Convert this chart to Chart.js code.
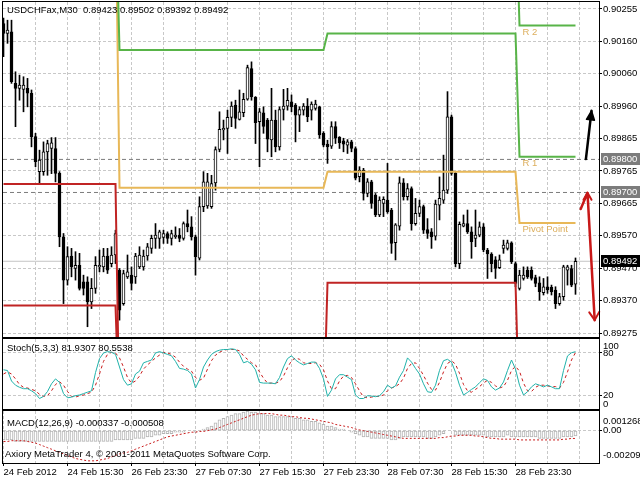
<!DOCTYPE html>
<html>
<head>
<meta charset="utf-8">
<script src="https://cdn.jsdelivr.net/npm/chart.js@4.4.0/dist/chart.umd.min.js"></script>
<style>
  html, body { margin: 0; padding: 0; background: #fff; }
  #wrap { position: relative; width: 640px; height: 480px; overflow: hidden; background: #fff; }
  #wrap canvas { position: absolute; left: 0; }
</style>
</head>
<body>
<div id="wrap">
  <canvas id="main" width="640" height="338" style="top:0px"></canvas>
  <canvas id="stoch" width="640" height="72" style="top:338px"></canvas>
  <canvas id="macd" width="640" height="70" style="top:410px"></canvas>
</div>
<script>
// ---- data (USDCHF M30, bar 0 = 24 Feb 2012 07:30) ----
const symbol = 'USDCHFax';
const period = 'M30';

const barOpen = [
  0.90211,0.90181,0.90186,0.90030,0.90015,0.90012,0.90015,0.90000,0.89869,0.89763,
  0.89763,0.89823,0.89833,0.89833,0.89758,0.89566,0.89435,0.89508,0.89470,0.89480,
  0.89430,0.89430,0.89369,0.89410,0.89475,0.89475,0.89508,0.89485,0.89511,0.89465,
  0.89364,0.89445,0.89450,0.89445,0.89475,0.89475,0.89508,0.89531,0.89561,0.89561,
  0.89564,0.89576,0.89561,0.89566,0.89571,0.89561,0.89606,0.89596,0.89566,0.89501,
  0.89657,0.89659,0.89657,0.89729,0.89830,0.89889,0.89894,0.89927,0.89964,0.89921,
  0.89941,0.89982,0.90075,0.89988,0.89914,0.89941,0.89919,0.89859,0.89919,0.89838,
  0.89951,0.89961,0.89974,0.89964,0.89934,0.89949,0.89961,0.89949,0.89954,0.89959,
  0.89879,0.89846,0.89840,0.89899,0.89867,0.89856,0.89843,0.89853,0.89833,0.89748,
  0.89768,0.89697,0.89732,0.89692,0.89632,0.89667,0.89677,0.89647,0.89548,0.89598,
  0.89729,0.89687,0.89712,0.89606,0.89637,0.89657,0.89588,0.89581,0.89568,0.89662,
  0.89677,0.89707,0.89929,0.89758,0.89485,0.89598,0.89606,0.89581,0.89561,0.89571,
  0.89596,0.89526,0.89514,0.89496,0.89473,0.89531,0.89531,0.89548,0.89485,0.89410,
  0.89440,0.89465,0.89465,0.89443,0.89427,0.89397,0.89415,0.89413,0.89405,0.89364,
  0.89385,0.89465,0.89470,0.89423
];
const barHigh = [
  0.90227,0.90221,0.90221,0.90065,0.90055,0.90050,0.90045,0.90010,0.89879,0.89828,
  0.89853,0.89858,0.89866,0.89866,0.89763,0.89576,0.89536,0.89531,0.89521,0.89516,
  0.89450,0.89445,0.89440,0.89506,0.89526,0.89531,0.89531,0.89536,0.89586,0.89470,
  0.89465,0.89511,0.89475,0.89516,0.89536,0.89526,0.89546,0.89571,0.89606,0.89586,
  0.89586,0.89581,0.89586,0.89596,0.89591,0.89611,0.89647,0.89627,0.89571,0.89687,
  0.89763,0.89758,0.89752,0.89838,0.89944,0.89919,0.89949,0.89974,0.89979,0.90010,
  0.90000,0.90085,0.90095,0.89990,0.89954,0.89959,0.89924,0.90015,0.89949,0.89959,
  0.90012,0.90015,0.89995,0.89969,0.89959,0.89969,0.89984,0.89974,0.89979,0.89961,
  0.89884,0.89858,0.89914,0.89914,0.89869,0.89864,0.89860,0.89858,0.89838,0.89778,
  0.89773,0.89742,0.89737,0.89697,0.89687,0.89687,0.89788,0.89652,0.89606,0.89747,
  0.89742,0.89727,0.89717,0.89682,0.89677,0.89662,0.89621,0.89591,0.89677,0.89747,
  0.89813,0.90005,0.89934,0.89763,0.89611,0.89632,0.89647,0.89596,0.89647,0.89611,
  0.89606,0.89531,0.89518,0.89506,0.89511,0.89556,0.89556,0.89551,0.89490,0.89465,
  0.89475,0.89475,0.89475,0.89450,0.89445,0.89440,0.89445,0.89420,0.89415,0.89395,
  0.89480,0.89480,0.89480,0.89502
];
const barLow = [
  0.90111,0.90151,0.90030,0.89899,0.89979,0.89944,0.89959,0.89838,0.89778,0.89727,
  0.89752,0.89752,0.89757,0.89732,0.89536,0.89364,0.89420,0.89445,0.89435,0.89405,
  0.89390,0.89294,0.89349,0.89395,0.89460,0.89460,0.89455,0.89475,0.89485,0.89314,
  0.89359,0.89440,0.89405,0.89425,0.89470,0.89465,0.89495,0.89516,0.89531,0.89531,
  0.89546,0.89546,0.89541,0.89561,0.89551,0.89556,0.89581,0.89556,0.89450,0.89496,
  0.89642,0.89652,0.89652,0.89707,0.89823,0.89859,0.89818,0.89899,0.89894,0.89919,
  0.89929,0.89979,0.89979,0.89848,0.89778,0.89879,0.89823,0.89808,0.89823,0.89828,
  0.89919,0.89949,0.89944,0.89853,0.89884,0.89934,0.89914,0.89919,0.89949,0.89864,
  0.89838,0.89788,0.89833,0.89848,0.89833,0.89823,0.89818,0.89823,0.89738,0.89732,
  0.89677,0.89687,0.89652,0.89627,0.89627,0.89627,0.89637,0.89516,0.89496,0.89586,
  0.89677,0.89677,0.89586,0.89601,0.89627,0.89576,0.89561,0.89531,0.89556,0.89617,
  0.89667,0.89697,0.89752,0.89475,0.89470,0.89596,0.89576,0.89501,0.89536,0.89566,
  0.89521,0.89440,0.89460,0.89440,0.89470,0.89516,0.89526,0.89485,0.89415,0.89405,
  0.89435,0.89440,0.89435,0.89415,0.89374,0.89390,0.89395,0.89390,0.89349,0.89359,
  0.89374,0.89420,0.89415,0.89392
];
const barClose = [
  0.90181,0.90191,0.90035,0.90015,0.90025,0.90025,0.90000,0.89869,0.89793,0.89798,
  0.89823,0.89848,0.89850,0.89758,0.89566,0.89435,0.89506,0.89475,0.89480,0.89410,
  0.89410,0.89369,0.89410,0.89480,0.89480,0.89508,0.89465,0.89511,0.89576,0.89344,
  0.89455,0.89460,0.89425,0.89508,0.89511,0.89508,0.89536,0.89561,0.89571,0.89581,
  0.89576,0.89561,0.89576,0.89571,0.89561,0.89606,0.89596,0.89566,0.89506,0.89657,
  0.89732,0.89732,0.89727,0.89830,0.89891,0.89894,0.89927,0.89961,0.89924,0.89944,
  0.89982,0.90078,0.89990,0.89911,0.89944,0.89900,0.89861,0.89919,0.89838,0.89951,
  0.89961,0.89979,0.89959,0.89934,0.89951,0.89961,0.89929,0.89967,0.89967,0.89874,
  0.89843,0.89838,0.89899,0.89864,0.89850,0.89846,0.89853,0.89833,0.89743,0.89768,
  0.89697,0.89732,0.89667,0.89632,0.89677,0.89679,0.89642,0.89546,0.89602,0.89729,
  0.89687,0.89712,0.89606,0.89637,0.89657,0.89586,0.89576,0.89566,0.89665,0.89682,
  0.89707,0.89929,0.89758,0.89485,0.89604,0.89606,0.89581,0.89551,0.89571,0.89596,
  0.89526,0.89514,0.89485,0.89470,0.89496,0.89541,0.89548,0.89490,0.89425,0.89450,
  0.89450,0.89445,0.89440,0.89425,0.89400,0.89415,0.89405,0.89400,0.89364,0.89385,
  0.89475,0.89475,0.89420,0.89492
];

// daily pivot levels (first bar of each day); 0.9060 / 0.8900 = off the visible range
const dayStart    = [0, 29, 81, 129];
const r2Levels    = [0.90600, 0.90600, 0.90600, 0.90205];
const r1Levels    = [0.90600, 0.90131, 0.90181, 0.89808];
const pivotLevels = [0.90600, 0.89714, 0.89763, 0.89608];
const s1Levels    = [0.89726, 0.89000, 0.89427, 0.89000];
const s2Levels    = [0.89358, 0.89000, 0.89000, 0.89000];
const pivotLabels = ['R 2', 'R 1', 'Pivot Point'];
const pivotLabelLevels = [0.90205, 0.89808, 0.89608];
const pivotLabelBar = 130;

// horizontal lines and price marks
const userLines = [0.89800, 0.89700];
const bidPrice = 0.89492;

// hand-drawn arrows: [bar, price]
const blackArrow = [[145.6, 0.89801], [147.0, 0.89947]];
const redArrow = [[144.3, 0.89650], [146.0, 0.89699], [147.8, 0.89314]];

// price axis
const priceTicks = [0.89275,0.89373,0.89471,0.89569,0.89667,0.89765,0.89863,0.89961,0.90059,0.90157,0.90255];
const priceTickLabels = ['0.89275','0.89370','0.89470','0.89570','0.89665','0.89765','0.89865','0.89960','0.90060','0.90160','0.90255'];

// time axis
const gridBars = [8,16,24,32,40,48,56,64,72,80,88,96,104,112,120,128,136,144];
const timeLabelBars = [0,16,32,48,64,80,96,112,128];
const timeLabels = ['24 Feb 2012','24 Feb 15:30','26 Feb 23:30','27 Feb 07:30','27 Feb 15:30','27 Feb 23:30','28 Feb 07:30','28 Feb 15:30','28 Feb 23:30'];

// Stochastic(5,3,3)
const stochK = [
  56,55,40,34,31,29,29,26,22,15,
  18,25,36,43,38,22,16,17,19,20,
  22,24,26,52,72,80,82,81,78,60,
  42,34,36,50,54,66,68,70,80,82,
  80,78,76,68,58,57,55,50,30,42,
  60,70,78,82,84,85,85,86,85,78,
  66,68,64,56,38,37,37,37,36,45,
  60,72,76,70,66,63,65,67,67,58,
  43,18,27,43,49,49,45.5,42,20,15,
  15,19,18.5,17.6,19,24.6,34,30,33,45.5,
  55,73,67,58,50,36,24.6,23.7,34,55,
  69,71,67,52.5,34,20,23.7,28,31.6,37.6,
  43,40.8,31.6,27,30,38.6,55,70,57,34,
  20,24.6,31.6,36,34,31.6,34,31.6,29,29,
  55,75.8,80.4,81.9307
];
const stochD = [
  50,53,50,43,35,31,30,28,26,21,
  18,19,26,35,39,34,25,18,17,19,
  20,22,24,34,50,68,78,81,80,73,
  60,45,37,40,47,57,63,68,73,77,
  81,80,78,74,67,61,57,54,45,41,
  44,57,69,77,81,84,85,85,85,83,
  76,71,66,63,53,44,37,37,37,39,
  47,59,69,73,71,66,65,65,66,64,
  56,40,29,29,40,47,48,45,36,26,
  17,16,17,18,18,20,26,30,32,36,
  44,58,65,66,58,48,37,28,27,38,
  53,65,69,64,51,35,26,24,28,32,
  37,41,38,33,30,32,41,55,61,54,
  37,26,25,31,34,34,33,32,32,30,
  38,53,70,80.5538
];
const stochTicks = [20, 80];

// MACD(12,26,9)
const macdMain = [
  -0.0006,-0.0006,-0.0006,-0.0007,-0.0007,-0.0007,-0.0007,-0.0007,-0.0007,-0.0007,
  -0.0007,-0.0007,-0.0007,-0.0007,-0.0007,-0.0007,-0.0007,-0.0007,-0.0007,-0.0007,
  -0.0007,-0.0007,-0.0007,-0.0007,-0.0007,-0.0007,-0.0007,-0.0007,-0.0006,-0.0006,
  -0.0006,-0.0006,-0.0006,-0.0005,-0.0005,-0.0005,-0.0004,-0.0004,-0.0003,-0.0003,
  -0.0002,-0.0002,-0.0002,-0.0001,-0.0001,-0.0001,0.0000,0.0000,-0.0001,0.0000,
  0.0001,0.0002,0.0003,0.0005,0.0007,0.0008,0.0009,0.0010,0.0011,0.0011,
  0.0012,0.001268,0.0012,0.0012,0.0011,0.0011,0.0010,0.0010,0.0009,0.0009,
  0.0009,0.0009,0.0009,0.0008,0.0008,0.0007,0.0007,0.0006,0.0006,0.0005,
  0.0004,0.0003,0.0003,0.0002,0.0001,0.0001,0.0000,-0.0001,-0.0002,-0.0003,
  -0.0004,-0.0004,-0.0005,-0.0005,-0.0005,-0.0005,-0.0005,-0.0006,-0.0006,-0.0005,
  -0.0004,-0.0004,-0.0004,-0.0004,-0.0004,-0.0004,-0.0005,-0.0005,-0.0004,-0.0003,
  -0.0002,0.0000,0.0000,-0.0003,-0.0003,-0.0003,-0.0003,-0.0003,-0.0003,-0.0003,
  -0.0003,-0.0004,-0.0004,-0.0004,-0.0004,-0.0004,-0.0003,-0.0004,-0.0004,-0.0004,
  -0.0004,-0.0004,-0.0004,-0.0004,-0.0005,-0.0005,-0.0005,-0.0005,-0.0005,-0.0005,
  -0.0004,-0.0004,-0.0004,-0.000337
];
const macdSignal = [
  -0.00070,-0.00070,-0.00065,-0.00065,-0.00065,-0.00065,-0.00070,-0.00075,-0.00080,-0.00090,
  -0.00100,-0.00110,-0.00120,-0.00130,-0.00140,-0.00150,-0.00160,-0.00170,-0.00180,-0.00185,
  -0.00190,-0.00195,-0.00195,-0.00195,-0.00190,-0.00185,-0.00180,-0.00170,-0.00160,-0.00150,
  -0.00145,-0.00140,-0.00130,-0.00120,-0.00110,-0.00100,-0.00090,-0.00080,-0.00070,-0.00060,
  -0.00050,-0.00040,-0.00035,-0.00030,-0.00025,-0.00020,-0.00015,-0.00010,-0.00010,-0.00005,
  -0.00005,0.00000,0.00005,0.00010,0.00020,0.00030,0.00040,0.00050,0.00060,0.00070,
  0.00080,0.00090,0.00100,0.00105,0.00110,0.00110,0.00110,0.00110,0.00105,0.00100,
  0.00100,0.00095,0.00090,0.00090,0.00085,0.00080,0.00080,0.00075,0.00070,0.00065,
  0.00060,0.00055,0.00050,0.00040,0.00035,0.00030,0.00025,0.00020,0.00010,0.00005,
  0.00000,-0.00005,-0.00010,-0.00015,-0.00020,-0.00025,-0.00030,-0.00035,-0.00040,-0.00045,
  -0.00050,-0.00050,-0.00050,-0.00050,-0.00050,-0.00050,-0.00050,-0.00050,-0.00050,-0.00045,
  -0.00045,-0.00040,-0.00035,-0.00035,-0.00030,-0.00030,-0.00030,-0.00030,-0.00035,-0.00035,
  -0.00040,-0.00045,-0.00050,-0.00050,-0.00055,-0.00055,-0.00055,-0.00055,-0.00055,-0.00060,
  -0.00060,-0.00060,-0.00060,-0.00060,-0.00060,-0.00060,-0.00060,-0.00060,-0.00060,-0.00060,
  -0.00055,-0.00055,-0.00050,-0.000508
];
const macdMax = 0.001268;
const macdMin = -0.00209;

// ---- look ----
const FONT_FAMILY = "'Liberation Sans', Arial, sans-serif";
const FONT_SIZE = 9.5;
const FONT_CSS = FONT_SIZE + 'px ' + FONT_FAMILY;
const GRID = '#c8c8c8';
const X_MIN = -0.125, X_MAX = 148.875;

Chart.defaults.font.family = FONT_FAMILY;
Chart.defaults.font.size = FONT_SIZE;
Chart.defaults.color = '#000';
Chart.defaults.animation = false;

const bars = barOpen.map((_, i) => i);
const dayOf = i => { let d = 0; dayStart.forEach((s, k) => { if (i >= s) d = k; }); return d; };
const levelSeries = levels => bars.map(i => ({ x: i, y: levels[dayOf(i)] }));
const fullWidth = v => [{ x: X_MIN, y: v }, { x: X_MAX, y: v }];

function xAxis(withLabels) {
  return {
    type: 'linear', min: X_MIN, max: X_MAX, offset: false,
    afterBuildTicks: s => { s.ticks = (withLabels ? [0].concat(gridBars) : gridBars).map(v => ({ value: v })); },
    afterFit: s => { s.height = withLabels ? 17 : 0; s.paddingLeft = 0; s.paddingRight = 0; },
    ticks: {
      display: withLabels, autoSkip: false, maxRotation: 0, align: 'start', padding: 1,
      callback: v => { const k = timeLabelBars.indexOf(v); return k >= 0 ? timeLabels[k] : ''; }
    },
    grid: {
      color: GRID, offset: false, drawTicks: withLabels, tickLength: 3,
      tickColor: c => (c.tick && timeLabelBars.includes(c.tick.value)) ? '#000' : 'rgba(0,0,0,0)'
    },
    border: { display: false, dash: [3, 2] }
  };
}

function yAxis(min, max, tickValues, tickLabels) {
  return {
    type: 'linear', position: 'right', min: min, max: max,
    afterBuildTicks: s => { s.ticks = tickValues.map(v => ({ value: v })); },
    afterFit: s => { s.width = 41; s.paddingTop = 0; s.paddingBottom = 0; },
    ticks: { autoSkip: false, padding: 1, callback: (v, i) => tickLabels[i] },
    grid: { color: GRID, tickColor: '#000', tickLength: 3 },
    border: { display: false, dash: [3, 2] }
  };
}

const frame = {
  id: 'frame',
  afterDraw(chart) {
    const { ctx, chartArea: a } = chart;
    ctx.save();
    ctx.strokeStyle = '#000';
    ctx.lineWidth = 1;
    ctx.strokeRect(a.left - 0.5, a.top - 0.5, a.right - a.left + 1, a.bottom - a.top + 1);
    ctx.restore();
  }
};

function arrowHead(ctx, tip, from, len, half, filled) {
  const dx = tip[0] - from[0], dy = tip[1] - from[1];
  const l = Math.hypot(dx, dy) || 1;
  const ux = dx / l, uy = dy / l;
  const bx = tip[0] - ux * len, by = tip[1] - uy * len;
  ctx.beginPath();
  ctx.moveTo(bx - uy * half, by + ux * half);
  ctx.lineTo(tip[0], tip[1]);
  ctx.lineTo(bx + uy * half, by - ux * half);
  if (filled) { ctx.closePath(); ctx.fill(); }
  ctx.stroke();
}

const mainOverlay = {
  id: 'mainOverlay',
  afterDatasetsDraw(chart) {
    const { ctx, scales: { x, y } } = chart;
    const px = p => [x.getPixelForValue(p[0]), y.getPixelForValue(p[1])];
    ctx.save();
    ctx.font = FONT_CSS;
    ctx.fillStyle = '#dcae5c';
    ctx.textAlign = 'left';
    ctx.textBaseline = 'top';
    pivotLabels.forEach((t, k) => {
      ctx.fillText(t, x.getPixelForValue(pivotLabelBar) - 1, y.getPixelForValue(pivotLabelLevels[k]) + 2);
    });

    ctx.lineCap = 'round';
    ctx.lineJoin = 'round';
    // black arrow
    const b = blackArrow.map(px);
    ctx.strokeStyle = '#000'; ctx.fillStyle = '#000'; ctx.lineWidth = 2.5;
    ctx.beginPath(); ctx.moveTo(b[0][0], b[0][1]); ctx.lineTo(b[1][0], b[1][1]); ctx.stroke();
    ctx.lineWidth = 1.5;
    arrowHead(ctx, b[1], b[0], 9, 4, true);
    // red arrow
    const r = redArrow.map(px);
    ctx.strokeStyle = '#c81818'; ctx.lineWidth = 2.5;
    ctx.beginPath(); ctx.moveTo(r[0][0], r[0][1]); r.slice(1).forEach(p => ctx.lineTo(p[0], p[1])); ctx.stroke();
    ctx.lineWidth = 2;
    arrowHead(ctx, r[1], [r[1][0], r[1][1] + 10], 7, 4, false);
    arrowHead(ctx, r[2], r[1], 8, 5, false);
    ctx.restore();
  },
  afterDraw(chart) {
    const { ctx, chartArea: a, scales: { y } } = chart;
    const n = barClose.length - 1;
    const title = symbol + ',' + period + '  ' + [barOpen[n], barHigh[n], barLow[n], barClose[n]].map(v => v.toFixed(5)).join(' ');
    ctx.save();
    ctx.font = FONT_CSS;
    ctx.textBaseline = 'middle';
    ctx.textAlign = 'left';
    ctx.fillStyle = '#000';
    ctx.fillText(title, a.left + 4, a.top + 8);
    const marks = userLines.map(v => [v, '#7c7c7c']).concat([[bidPrice, '#000']]);
    marks.forEach(([v, c]) => {
      const py = Math.round(y.getPixelForValue(v));
      ctx.fillStyle = c;
      ctx.fillRect(a.right + 2, py - 6, 40, 12);
      ctx.fillStyle = '#fff';
      ctx.fillText(v.toFixed(5), a.right + 4, py + 0.5);
    });
    ctx.restore();
  }
};

// ---- main price chart ----
new Chart(document.getElementById('main'), {
  type: 'bar',
  data: {
    datasets: [
      { type: 'line', label: 'R2', data: levelSeries(r2Levels), borderColor: '#58b448', borderWidth: 2, pointRadius: 0, clip: 0, order: 0 },
      { type: 'line', label: 'R1', data: levelSeries(r1Levels), borderColor: '#58b448', borderWidth: 2, pointRadius: 0, clip: 0, order: 0 },
      { type: 'line', label: 'Pivot', data: levelSeries(pivotLevels), borderColor: '#e8b858', borderWidth: 2, pointRadius: 0, clip: 0, order: 0 },
      { type: 'line', label: 'S1', data: levelSeries(s1Levels), borderColor: '#c02424', borderWidth: 2, pointRadius: 0, clip: 0, order: 0 },
      { type: 'line', label: 'S2', data: levelSeries(s2Levels), borderColor: '#c02424', borderWidth: 2, pointRadius: 0, clip: 0, order: 0 },
      {
        label: 'body', order: 1, grouped: false, barThickness: 3, minBarLength: 1,
        data: bars.map(i => ({ x: i, y: [barOpen[i], barClose[i]] })),
        backgroundColor: bars.map(i => barClose[i] >= barOpen[i] ? '#fff' : '#000'),
        borderColor: '#000', borderWidth: 1, borderSkipped: false
      },
      {
        label: 'wick', order: 2, grouped: false, barThickness: 1,
        data: bars.map(i => ({ x: i, y: [barLow[i], barHigh[i]] })),
        backgroundColor: '#000', borderWidth: 0
      },
      ...userLines.map(v => ({ type: 'line', label: 'line ' + v, data: fullWidth(v), borderColor: '#7c7c7c', borderWidth: 1, borderDash: [4, 3], pointRadius: 0, clip: 0, order: 3 })),
      { type: 'line', label: 'bid', data: fullWidth(bidPrice), borderColor: '#c4c4c4', borderWidth: 1, pointRadius: 0, clip: 0, order: 3 }
    ]
  },
  options: {
    responsive: false, devicePixelRatio: 1, events: [],
    layout: { padding: { left: 3, top: 2, right: 0, bottom: 1 } },
    plugins: { legend: { display: false }, tooltip: { enabled: false } },
    scales: {
      x: xAxis(false),
      y: yAxis(0.89263, 0.90276, priceTicks, priceTickLabels)
    }
  },
  plugins: [mainOverlay, frame]
});

// ---- stochastic ----
new Chart(document.getElementById('stoch'), {
  type: 'line',
  data: {
    datasets: [
      { label: '%K', data: bars.map(i => ({ x: i, y: stochK[i] })), borderColor: '#20b2aa', borderWidth: 1, pointRadius: 0, clip: 0 },
      { label: '%D', data: bars.map(i => ({ x: i, y: stochD[i] })), borderColor: '#c81c1c', borderWidth: 1, borderDash: [3, 3], pointRadius: 0, clip: 0 }
    ]
  },
  options: {
    responsive: false, devicePixelRatio: 1, events: [],
    layout: { padding: { left: 3, top: 1, right: 0, bottom: 1 } },
    plugins: { legend: { display: false }, tooltip: { enabled: false } },
    scales: {
      x: xAxis(false),
      y: yAxis(0, 100, stochTicks, stochTicks.map(String))
    }
  },
  plugins: [{
    id: 'stochText',
    afterDraw(chart) {
      const { ctx, chartArea: a, scales: { y } } = chart;
      const n = stochK.length - 1;
      ctx.save();
      ctx.font = FONT_CSS; ctx.fillStyle = '#000'; ctx.textBaseline = 'middle'; ctx.textAlign = 'left';
      ctx.fillText('Stoch(5,3,3) ' + stochK[n].toFixed(4) + ' ' + stochD[n].toFixed(4), a.left + 4, a.top + 9);
      ctx.fillText('100', a.right + 4, y.getPixelForValue(100) + 7);
      ctx.fillText('0', a.right + 4, y.getPixelForValue(0) - 5);
      ctx.restore();
    }
  }, frame]
});

// ---- MACD ----
new Chart(document.getElementById('macd'), {
  type: 'bar',
  data: {
    datasets: [
      { type: 'line', label: 'Signal', data: bars.map(i => ({ x: i, y: macdSignal[i] })), borderColor: '#c81c1c', borderWidth: 1, borderDash: [2, 2], pointRadius: 0, clip: 0, order: 0 },
      { label: 'MACD', data: bars.map(i => ({ x: i, y: macdMain[i] })), grouped: false, barThickness: 3, backgroundColor: '#fff', borderColor: '#b4b4b4', borderWidth: 1, borderSkipped: false, order: 1 }
    ]
  },
  options: {
    responsive: false, devicePixelRatio: 1, events: [],
    layout: { padding: { left: 3, top: 1, right: 0, bottom: 0 } },
    plugins: { legend: { display: false }, tooltip: { enabled: false } },
    scales: {
      x: xAxis(true),
      y: yAxis(macdMin, macdMax, [0], ['0.00'])
    }
  },
  plugins: [{
    id: 'macdText',
    afterDraw(chart) {
      const { ctx, chartArea: a, scales: { y } } = chart;
      const n = macdMain.length - 1;
      ctx.save();
      ctx.font = FONT_CSS; ctx.fillStyle = '#000'; ctx.textBaseline = 'middle'; ctx.textAlign = 'left';
      ctx.fillText('MACD(12,26,9) ' + macdMain[n].toFixed(6) + ' ' + macdSignal[n].toFixed(6), a.left + 4, a.top + 12);
      ctx.fillText('Axiory MetaTrader 4, \u00a9 2001-2011 MetaQuotes Software Corp.', a.left + 2, a.top + 43);
      ctx.fillText(String(macdMax), a.right + 4, y.getPixelForValue(macdMax) + 10);
      ctx.fillText(macdMin.toFixed(5), a.right + 4, y.getPixelForValue(macdMin) - 8);
      ctx.restore();
    }
  }, frame]
});
</script>
</body>
</html>
